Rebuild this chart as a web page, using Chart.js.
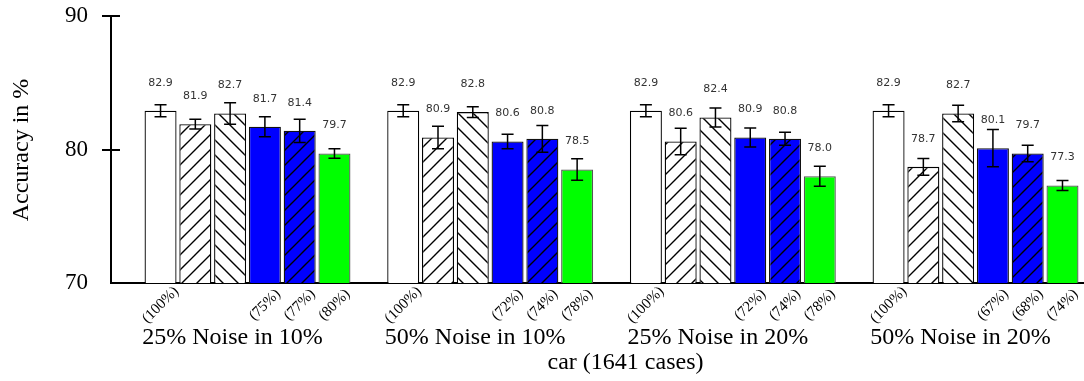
<!DOCTYPE html>
<html>
<head>
<meta charset="utf-8">
<script src="https://cdn.jsdelivr.net/npm/chart.js@4.4.1/dist/chart.umd.min.js"></script>
<style>
    html, body { margin: 0; padding: 0; background: #fff; overflow: hidden; }
</style>
</head>
<body>
<canvas id="myChart" width="1084" height="381"></canvas>
<script>
const groups = ['25% Noise in 10%', '50% Noise in 10%', '25% Noise in 20%', '50% Noise in 20%']
const yTicks = [70, 80, 90]

// accuracy per group, one array per bar
const s1 = [82.9, 82.9, 82.9, 82.9]
const s2 = [81.9, 80.9, 80.6, 78.7]
const s3 = [82.7, 82.8, 82.4, 82.7]
const s4 = [81.7, 80.6, 80.9, 80.1]
const s5 = [81.4, 80.8, 80.8, 79.7]
const s6 = [79.7, 78.5, 78.0, 77.3]

// error bar half widths
const e1 = [0.45, 0.45, 0.45, 0.45]
const e2 = [0.36, 0.84, 0.99, 0.62]
const e3 = [0.81, 0.40, 0.71, 0.62]
const e4 = [0.75, 0.54, 0.71, 1.40]
const e5 = [0.87, 1.00, 0.49, 0.62]
const e6 = [0.36, 0.81, 0.75, 0.37]

// percentage labels under the bars
const p1 = ['(100%)', '(100%)', '(100%)', '(100%)']
const p4 = ['(75%)', '(72%)', '(72%)', '(67%)']
const p5 = ['(77%)', '(74%)', '(74%)', '(68%)']
const p6 = ['(80%)', '(78%)', '(78%)', '(74%)']

const series = [s1, s2, s3, s4, s5, s6]
const errors = [e1, e2, e3, e4, e5, e6]
const pcts = [p1, null, null, p4, p5, p6]

const serif = "'Liberation Serif', 'Times New Roman', serif"

function hatch(bg, dir) {
    const c = document.createElement('canvas')
    const n = 15
    c.width = n
    c.height = n
    const g = c.getContext('2d')
    g.fillStyle = bg
    g.fillRect(0, 0, n, n)
    g.strokeStyle = '#000'
    g.lineWidth = 1.4
    g.beginPath()
    if (dir === '/') {
        g.moveTo(-2, n + 2); g.lineTo(n + 2, -2)
        g.moveTo(-2, 2); g.lineTo(2, -2)
        g.moveTo(n - 2, n + 2); g.lineTo(n + 2, n - 2)
    } else {
        g.moveTo(-2, -2); g.lineTo(n + 2, n + 2)
        g.moveTo(n - 2, -2); g.lineTo(n + 2, 2)
        g.moveTo(-2, n - 2); g.lineTo(2, n + 2)
    }
    g.stroke()
    return g.createPattern(c, 'repeat')
}

const fills = ['#ffffff', hatch('#ffffff', '/'), hatch('#ffffff', '\\'), '#0000ff', hatch('#0000ff', '/'), '#00ff00']
const borders = ['#000', '#000', '#000', '#111', '#111', '#555']

const overlay = {
    id: 'overlay',
    afterDatasetsDraw(chart) {
        const ctx = chart.ctx
        const x = chart.scales.x
        const y = chart.scales.y
        ctx.save()

        // inner half of the y ticks
        ctx.strokeStyle = '#000'
        ctx.lineWidth = 2
        yTicks.filter(v => v > 70).forEach(v => {
            const py = Math.round(y.getPixelForValue(v))
            ctx.beginPath()
            ctx.moveTo(x.left, py)
            ctx.lineTo(x.left + 9, py)
            ctx.stroke()
        })

        series.forEach((vals, di) => {
            const meta = chart.getDatasetMeta(di)
            meta.data.forEach((bar, i) => {
                const v = vals[i]
                const e = errors[di][i]
                const t = y.getPixelForValue(v + e)
                const b = y.getPixelForValue(v - e)
                ctx.strokeStyle = '#000'
                ctx.lineWidth = 1.5
                ctx.beginPath()
                ctx.moveTo(bar.x, t); ctx.lineTo(bar.x, b)
                ctx.moveTo(bar.x - 6, t); ctx.lineTo(bar.x + 6, t)
                ctx.moveTo(bar.x - 6, b); ctx.lineTo(bar.x + 6, b)
                ctx.stroke()

                ctx.fillStyle = '#333'
                ctx.font = "11px 'DejaVu Sans', sans-serif"
                ctx.textAlign = 'center'
                ctx.textBaseline = 'middle'
                ctx.fillText(v.toFixed(1), bar.x, bar.y - 28)

                if (pcts[di]) {
                    ctx.save()
                    ctx.translate(bar.x, y.bottom + 22)
                    ctx.rotate(-Math.PI / 4)
                    ctx.fillStyle = '#000'
                    ctx.font = '15px ' + serif
                    ctx.fillText(pcts[di][i], 0, 0)
                    ctx.restore()
                }
            })
        })

        ctx.fillStyle = '#000'
        ctx.font = '24px ' + serif
        ctx.textAlign = 'center'
        ctx.textBaseline = 'middle'
        groups.forEach((g, i) => {
            ctx.fillText(g, x.getPixelForValue(i) - 15, 338)
        })
        ctx.fillText('car (1641 cases)', x.getPixelForValue(1.5) + 14, 363)

        ctx.save()
        ctx.translate(22, 150)
        ctx.rotate(-Math.PI / 2)
        ctx.fillText('Accuracy in %', 0, 0)
        ctx.restore()

        ctx.restore()
    }
}

const config = {
    type: 'bar',
    data: {
        datasets: series.map((vals, di) => ({
            data: vals.map((v, i) => ({ x: i, y: v })),
            backgroundColor: fills[di],
            borderColor: borders[di],
            borderWidth: 1.3,
            borderSkipped: false,
            categoryPercentage: 0.86,
            barPercentage: 0.92
        }))
    },
    options: {
        responsive: false,
        animation: false,
        devicePixelRatio: 1,
        layout: { padding: { top: 16, right: 0, left: 0, bottom: 0 } },
        plugins: {
            legend: { display: false },
            tooltip: { enabled: false }
        },
        scales: {
            x: {
                type: 'linear',
                offset: false,
                min: -0.5625,
                max: 3.447,
                afterBuildTicks: scale => {
                    scale.ticks = groups.map((g, i) => ({ value: i }))
                },
                afterFit: scale => {
                    scale.height = 98
                    scale.paddingLeft = 0
                    scale.paddingRight = 0
                },
                ticks: { display: false },
                grid: { display: false },
                border: { display: true, color: '#000', width: 2 }
            },
            y: {
                min: 70,
                max: 90,
                afterBuildTicks: scale => {
                    scale.ticks = yTicks.map(v => ({ value: v }))
                },
                afterFit: scale => {
                    scale.width = 111
                    scale.paddingTop = 0
                    scale.paddingBottom = 0
                },
                ticks: {
                    color: '#000',
                    padding: 14,
                    font: { family: serif, size: 23 }
                },
                grid: {
                    drawOnChartArea: false,
                    tickLength: 9,
                    lineWidth: 2,
                    color: ctx => ctx.tick && ctx.tick.value === 70 ? 'rgba(0,0,0,0)' : '#000'
                },
                border: { display: true, color: '#000', width: 2 }
            }
        }
    },
    plugins: [overlay]
}

let myChart = new Chart(document.getElementById('myChart'), config)
</script>
</body>
</html>
